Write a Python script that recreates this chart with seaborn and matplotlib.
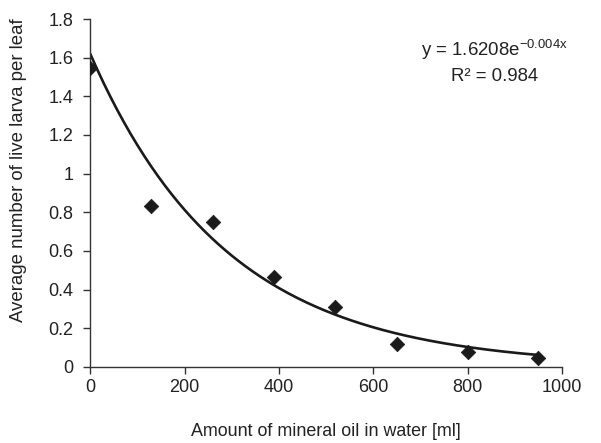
import numpy as np
import pandas as pd
import matplotlib
matplotlib.use("Agg")
import matplotlib.pyplot as plt
import seaborn as sns

# Data
oil_ml = [0, 130, 260, 390, 520, 650, 800, 950]
larva = [1.548, 0.834, 0.752, 0.467, 0.31, 0.117, 0.078, 0.045]
x_ticks = [0, 200, 400, 600, 800, 1000]
y_ticks = [0, 0.2, 0.4, 0.6, 0.8, 1.0, 1.2, 1.4, 1.6, 1.8]
y_tick_labels = ["0", "0.2", "0.4", "0.6", "0.8", "1", "1.2", "1.4", "1.6", "1.8"]
# Exponential trendline as drawn (coefficients)
trend_a = 1.6208
trend_b = -0.00345

sns.set_style("white")
plt.rcParams['font.family'] = ['Liberation Sans', 'DejaVu Sans']

df = pd.DataFrame({"oil": oil_ml, "larva": larva})

fig = plt.figure(figsize=(6.01, 4.43), dpi=100)
ax = fig.add_axes([0.150, 0.172, 0.785, 0.785])

xs = np.linspace(min(oil_ml), max(oil_ml), 200)
trend = pd.DataFrame({"oil": xs, "fit": trend_a * np.exp(trend_b * xs)})
sns.lineplot(data=trend, x="oil", y="fit", ax=ax, color="#1a1a1a", linewidth=1.9)

sns.scatterplot(data=df, x="oil", y="larva", ax=ax, marker="D", s=55,
                color="#1a1a1a", edgecolor="#1a1a1a", linewidth=0.5, zorder=3)

ax.set_xlim(0, 1000)
ax.set_ylim(0, 1.8)
ax.set_xticks(x_ticks)
ax.set_xticklabels([str(t) for t in x_ticks])
ax.set_yticks(y_ticks)
ax.set_yticklabels(y_tick_labels)

for s in ["top", "right"]:
    ax.spines[s].set_visible(False)
for s in ["left", "bottom"]:
    ax.spines[s].set_color("#333333")
    ax.spines[s].set_linewidth(1.0)

ax.tick_params(axis="both", which="major", direction="out", length=5, width=1.0,
               color="#333333", labelsize=13, labelcolor="#222222",
               left=True, bottom=True)
ax.tick_params(axis="y", pad=7)
ax.tick_params(axis="x", pad=4)

ax.set_xlabel("Amount of mineral oil in water [ml]", fontsize=12.9, color="#222222", labelpad=19)
ax.set_ylabel("Average number of live larva per leaf", fontsize=13.4, color="#222222")
ax.yaxis.set_label_coords(-0.133, 0.566)

ax.text(857, 1.64, r"y = 1.6208e$^{\mathregular{-0.004x}}$", fontsize=13.4, color="#222222",
        ha="center", va="center")
ax.text(857, 1.503, "R² = 0.984", fontsize=13.4, color="#222222", ha="center", va="center")

fig.savefig("out.png", dpi=100)
